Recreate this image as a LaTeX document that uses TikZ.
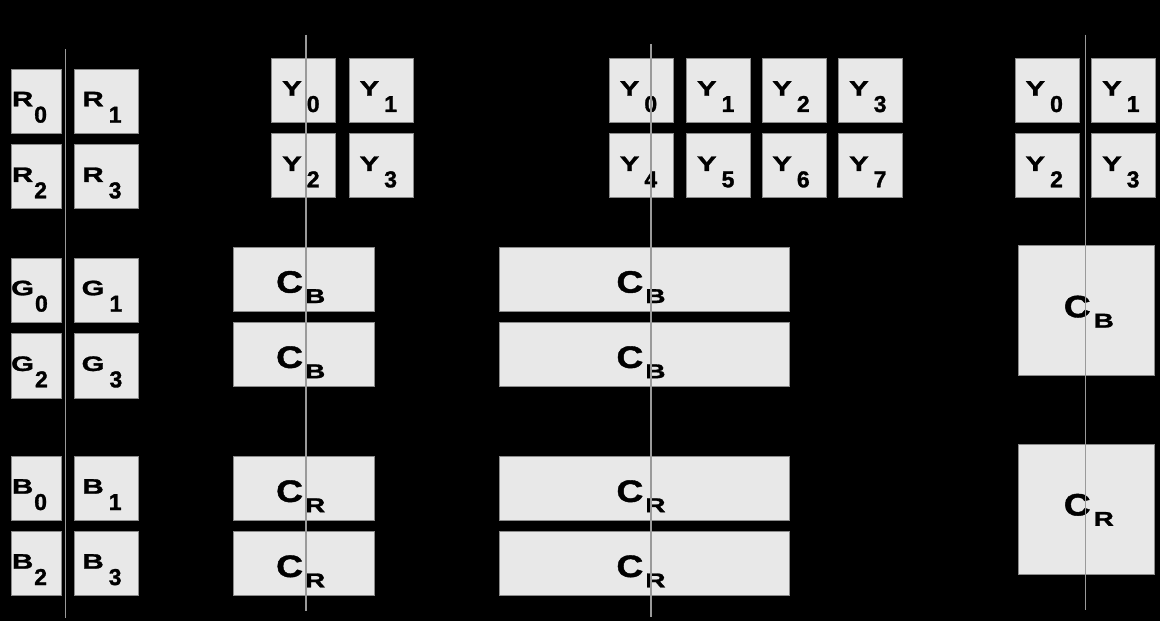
\documentclass[tikz,border=0pt]{standalone}
\usepackage{fontspec}
\setmainfont{Liberation Sans}
\newfontfamily\lblfont[BoldFeatures={FakeBold=1.3}]{Liberation Sans}
\usepackage{graphicx}
\definecolor{cellfill}{HTML}{E8E8E8}
\definecolor{cellline}{HTML}{8C8C8C}
\definecolor{axisline}{HTML}{9A9A9A}

% move a label sideways by #1 without changing the width of its cell
\newcommand\shiftlbl[2]{\makebox[0pt]{\kern#1\kern#1#2}}
% sample letter with its index set low; #3 is the gap
\newcommand\idx[3]{{\lblfont\bfseries\scalebox{1.4}[1]{\fontsize{21bp}{21bp}\selectfont #1}\hspace{#3}\raisebox{-16.3bp}{\fontsize{23bp}{23bp}\selectfont #2}}}
% chroma letter C with a small index letter
\newcommand\comp[2]{{\lblfont\bfseries\scalebox{1.2}[1]{\fontsize{31bp}{31bp}\selectfont C}\hspace{#2}\raisebox{-10.3bp}{\scalebox{1.4}[1]{\fontsize{20bp}{20bp}\selectfont #1}}}}

\tikzset{
  cell/.style={draw=cellline, fill=cellfill, line width=1bp, inner sep=0pt,
    minimum width=64bp, minimum height=64bp, text height=10bp, text depth=0pt},
  edgecell/.style={cell, minimum width=49bp},
  widecell/.style={cell, minimum width=141bp, text height=26.4bp},
  widercell/.style={cell, minimum width=290bp, text height=26.4bp},
  bigcell/.style={cell, minimum width=136bp, minimum height=130bp, text height=13bp},
  axis/.style={draw=axisline, line width=1.4bp}
}

\begin{document}
\begin{tikzpicture}[x=1bp, y=-1bp]
\fill[black] (0,0) rectangle (1160,621);
\useasboundingbox (0,0) rectangle (1160,621);

% ---- RGB planes, 2x2 samples each
\node[edgecell] (r0) at (36.5,101.3) {\shiftlbl{-7bp}{\idx{R}{0}{1bp}}};
\node[cell]     (r1) at (106,101.3)  {\shiftlbl{-4bp}{\idx{R}{1}{5bp}}};
\node[edgecell] (r2) at (36.5,177)   {\shiftlbl{-7bp}{\idx{R}{2}{1bp}}};
\node[cell]     (r3) at (106,177)    {\shiftlbl{-4bp}{\idx{R}{3}{5bp}}};
\node[edgecell] (g0) at (36.5,290.3) {\shiftlbl{-7bp}{\idx{G}{0}{1bp}}};
\node[cell]     (g1) at (106,290.3)  {\shiftlbl{-4bp}{\idx{G}{1}{5bp}}};
\node[edgecell] (g2) at (36.5,366)   {\shiftlbl{-7bp}{\idx{G}{2}{1bp}}};
\node[cell]     (g3) at (106,366)    {\shiftlbl{-4bp}{\idx{G}{3}{5bp}}};
\node[edgecell] (b0) at (36.5,488.7) {\shiftlbl{-7bp}{\idx{B}{0}{1bp}}};
\node[cell]     (b1) at (106,488.7)  {\shiftlbl{-4bp}{\idx{B}{1}{5bp}}};
\node[edgecell] (b2) at (36.5,563.7) {\shiftlbl{-7bp}{\idx{B}{2}{1bp}}};
\node[cell]     (b3) at (106,563.7)  {\shiftlbl{-4bp}{\idx{B}{3}{5bp}}};

% ---- 2x2 luma with half-width chroma rows
\node[cell] (ya0) at (303.9,90.7) {\shiftlbl{-3bp}{\idx{Y}{0}{5bp}}};
\node[cell] (ya1) at (381.3,90.7) {\shiftlbl{-3bp}{\idx{Y}{1}{5bp}}};
\node[cell] (ya2) at (303.9,166)  {\shiftlbl{-3bp}{\idx{Y}{2}{5bp}}};
\node[cell] (ya3) at (381.3,166)  {\shiftlbl{-3bp}{\idx{Y}{3}{5bp}}};
\node[widecell] (cba1) at (304,279.5) {\shiftlbl{-3.3bp}{\comp{B}{2bp}}};
\node[widecell] (cba2) at (304,354.7) {\shiftlbl{-3.3bp}{\comp{B}{2bp}}};
\node[widecell] (cra1) at (304,488.7) {\shiftlbl{-3.3bp}{\comp{R}{2bp}}};
\node[widecell] (cra2) at (304,563.8) {\shiftlbl{-3.3bp}{\comp{R}{2bp}}};

% ---- 4x2 luma with wide chroma
\node[cell] (yb0) at (641.5,90.7) {\shiftlbl{-3bp}{\idx{Y}{0}{5bp}}};
\node[cell] (yb1) at (718.7,90.7) {\shiftlbl{-3bp}{\idx{Y}{1}{5bp}}};
\node[cell] (yb2) at (794,90.7)   {\shiftlbl{-3bp}{\idx{Y}{2}{5bp}}};
\node[cell] (yb3) at (870.8,90.7) {\shiftlbl{-3bp}{\idx{Y}{3}{5bp}}};
\node[cell] (yb4) at (641.5,166)  {\shiftlbl{-3bp}{\idx{Y}{4}{5bp}}};
\node[cell] (yb5) at (718.7,166)  {\shiftlbl{-3bp}{\idx{Y}{5}{5bp}}};
\node[cell] (yb6) at (794,166)    {\shiftlbl{-3bp}{\idx{Y}{6}{5bp}}};
\node[cell] (yb7) at (870.8,166)  {\shiftlbl{-3bp}{\idx{Y}{7}{5bp}}};
\node[widercell] (cbb1) at (644.3,279.5) {\shiftlbl{-3.3bp}{\comp{B}{2bp}}};
\node[widercell] (cbb2) at (644.3,354.7) {\shiftlbl{-3.3bp}{\comp{B}{2bp}}};
\node[widercell] (crb1) at (644.3,488.7) {\shiftlbl{-3.3bp}{\comp{R}{2bp}}};
\node[widercell] (crb2) at (644.3,563.8) {\shiftlbl{-3.3bp}{\comp{R}{2bp}}};

% ---- 2x2 luma with one chroma sample per plane
\node[cell] (yc0) at (1047.2,90.7) {\shiftlbl{-3bp}{\idx{Y}{0}{5bp}}};
\node[cell] (yc1) at (1123.8,90.7) {\shiftlbl{-3bp}{\idx{Y}{1}{5bp}}};
\node[cell] (yc2) at (1047.2,166)  {\shiftlbl{-3bp}{\idx{Y}{2}{5bp}}};
\node[cell] (yc3) at (1123.8,166)  {\shiftlbl{-3bp}{\idx{Y}{3}{5bp}}};
\node[bigcell] (cbc) at (1086.3,310.8) {\shiftlbl{2.5bp}{\comp{B}{3bp}}};
\node[bigcell] (crc) at (1086.3,509)   {\shiftlbl{2.5bp}{\comp{R}{3bp}}};

% ---- vertical centre lines drawn over the cells
\coordinate (a1t) at (65.7,49);    \coordinate (a1b) at (65.7,618);
\coordinate (a2t) at (306,34.7);   \coordinate (a2b) at (306,610.7);
\coordinate (a3t) at (651,44);     \coordinate (a3b) at (651,617);
\coordinate (a4t) at (1085.7,34.7); \coordinate (a4b) at (1085.7,610);
\draw[axis] (a1t) -- (a1b);
\draw[axis] (a2t) -- (a2b);
\draw[axis] (a3t) -- (a3b);
\draw[axis] (a4t) -- (a4b);
\end{tikzpicture}
\end{document}
